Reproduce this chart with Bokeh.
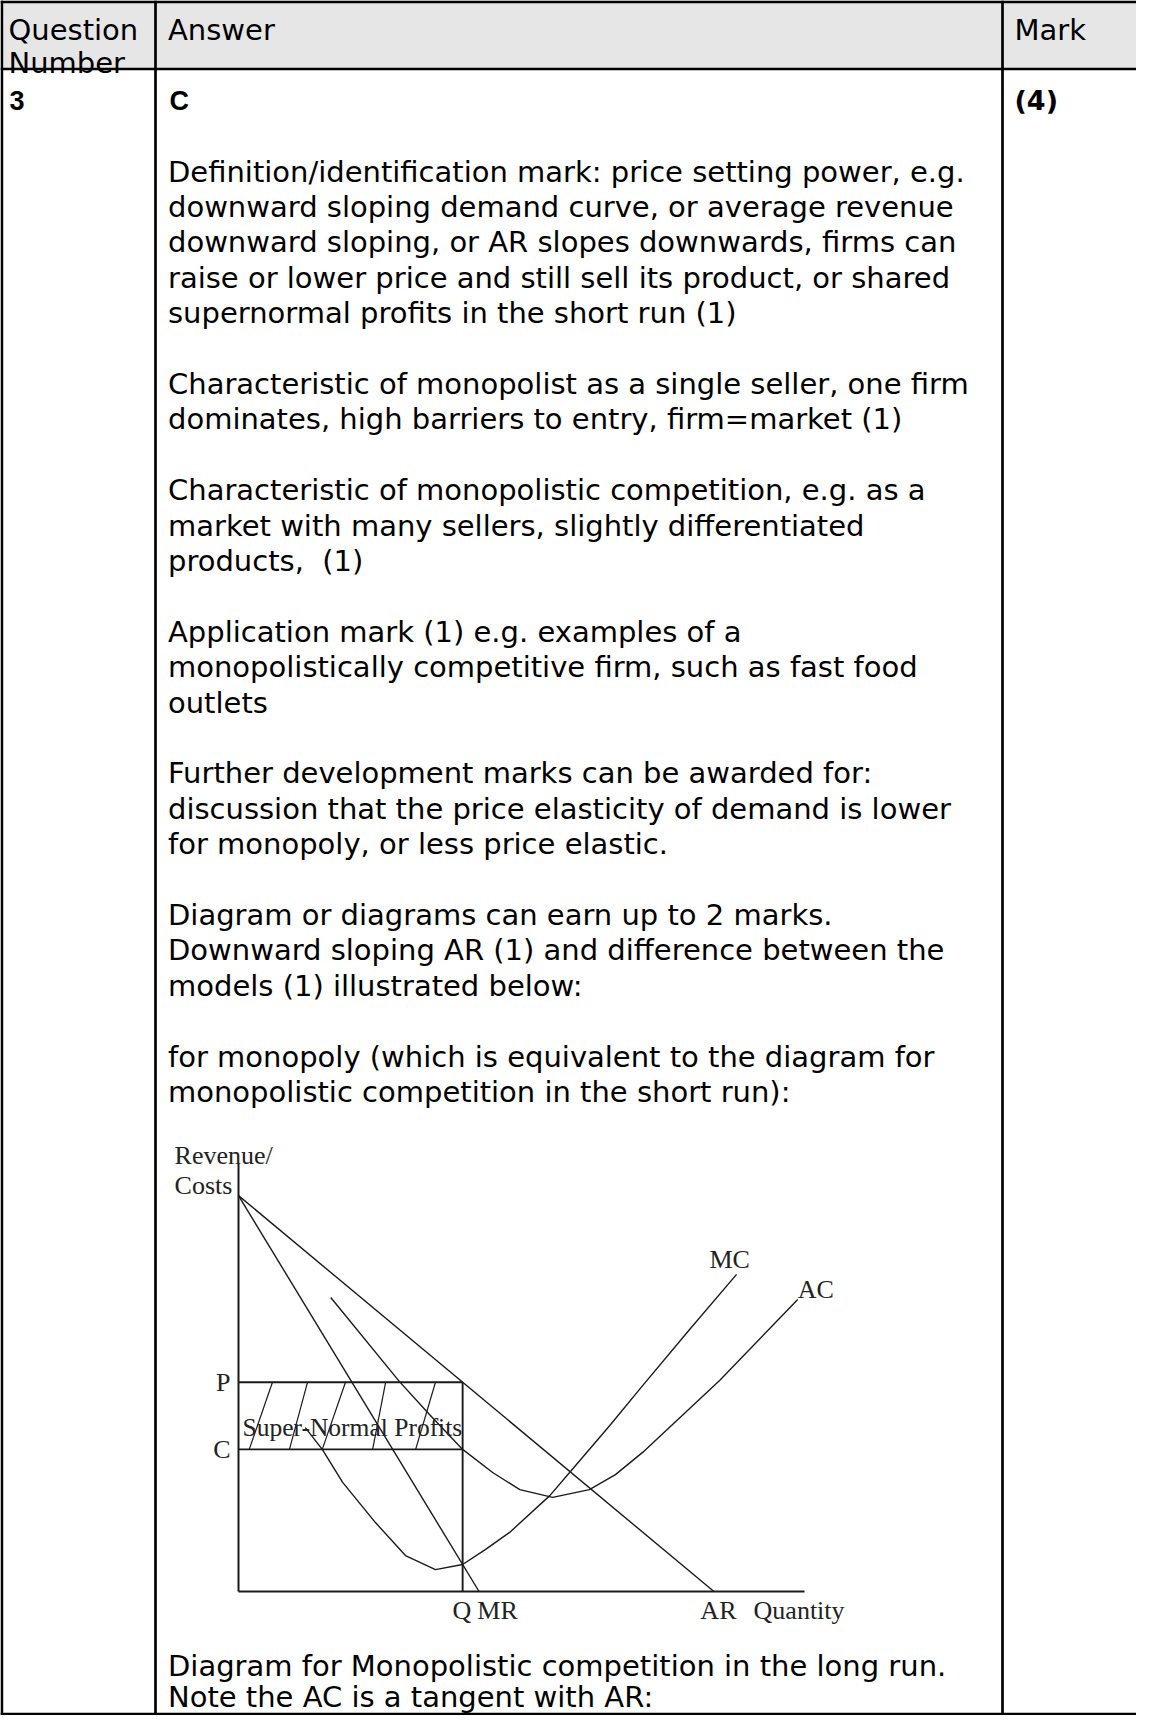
from bokeh.plotting import figure
from bokeh.models import Range1d, ColumnDataSource
from bokeh.core.properties import value
from bokeh.embed import file_html
from bokeh.resources import INLINE

# ---------------- data: table text ----------------
header_cells = ["Question", "Number", "Answer", "Mark"]
header_cols = [0, 0, 1, 2]
header_baselines = [37.5, 70.0, 37.5, 37.5]

question_number = "3"
answer_key = "C"
mark_total = "(4)"

answer_lines = [
    "Definition/identification mark: price setting power, e.g.",
    "downward sloping demand curve, or average revenue",
    "downward sloping, or AR slopes downwards, firms can",
    "raise or lower price and still sell its product, or shared",
    "supernormal profits in the short run (1)",
    "Characteristic of monopolist as a single seller, one firm",
    "dominates, high barriers to entry, firm=market (1)",
    "Characteristic of monopolistic competition, e.g. as a",
    "market with many sellers, slightly differentiated",
    "products,\u00a0 (1)",
    "Application mark (1) e.g. examples of a",
    "monopolistically competitive firm, such as fast food",
    "outlets",
    "Further development marks can be awarded for:",
    "discussion that the price elasticity of demand is lower",
    "for monopoly, or less price elastic.",
    "Diagram or diagrams can earn up to 2 marks.",
    "Downward sloping AR (1) and difference between the",
    "models (1) illustrated below:",
    "for monopoly (which is equivalent to the diagram for",
    "monopolistic competition in the short run):",
]
answer_rows = [0, 1, 2, 3, 4, 6, 7, 9, 10, 11, 13, 14, 15, 17, 18, 19, 21, 22, 23, 25, 26]

closing_lines = [
    "Diagram for Monopolistic competition in the long run.",
    "Note the AC is a tangent with AR:",
]

# ---------------- data: diagram (economic units) ----------------
axis_q_max = 100.0
axis_p_max = 100.0

ar_q = [0.0, 84.0]
ar_p = [92.5, 0.0]
mr_q = [0.0, 42.5]
mr_p = [92.5, 0.0]

mc_q = [11.8, 14.8, 18.4, 24.2, 29.5, 34.8, 39.6, 43.6, 47.9, 55.0, 58.5, 65.6, 71.4, 79.7, 88.0]
mc_p = [38.3, 33.2, 25.5, 16.1, 8.4, 5.1, 6.3, 9.8, 13.8, 22.4, 27.8, 38.8, 48.1, 61.2, 74.1]

ac_q = [16.3, 28.4, 33.7, 39.6, 44.9, 49.7, 55.5, 62.0, 66.6, 71.4, 85.0, 98.8]
ac_p = [68.7, 49.1, 41.4, 33.2, 27.8, 23.8, 22.0, 23.8, 27.3, 32.5, 49.3, 68.2]

q_star = 39.6   # profit-maximising output Q
p_star = 48.9   # price P
c_star = 33.2   # average cost C

hatch_q_low = [1.9, 9.0, 14.8, 23.7, 31.3]
hatch_q_high = [6.0, 12.2, 18.9, 26.0, 34.8]

# ---------------- layout (page pixels; figure sits at the 8px page margin) ----------------
FX0, FX1, FY0, FY1 = 8, 1144, 8, 1723
COL_TEXT_X = [16, 175.5, 1022]
COL_LINES_X = [163, 1010]
HEADER_BOTTOM = 76.5
LINE0, PITCH = 179.0, 35.4
ROW2_BASELINE = 108.0
CLOSING_BASELINES = [1673, 1704]
BORDER_W = 2.7

# diagram placement: q=0 at page x 246, p=0 at page y 1599
DX0, DY0, SX, SY = 246.0, 1599.0, 5.66, 4.28

p = figure(width=FX1 - FX0, height=FY1 - FY0,
           x_range=Range1d(FX0, FX1), y_range=Range1d(FY1, FY0),
           x_axis_type=None, y_axis_type=None,
           output_backend="svg", toolbar_location=None,
           min_border=0, outline_line_color=None,
           background_fill_color="white", border_fill_color="white")

p.extra_x_ranges = {"dq": Range1d((FX0 - DX0) / SX, (FX1 - DX0) / SX)}
p.extra_y_ranges = {"dp": Range1d((DY0 - FY1) / SY, (DY0 - FY0) / SY)}

def base(k):
    return LINE0 + PITCH * k

# header background
p.quad(left=FX0, right=FX1, top=FY0, bottom=HEADER_BOTTOM,
       fill_color="#e6e6e6", line_color=None)

# table rules
p.segment(x0=[FX0 + 1.35, COL_LINES_X[0], COL_LINES_X[1], FX0, FX0, FX0],
          y0=[FY0, FY0, FY0, FY0 + 1.35, HEADER_BOTTOM, FY1 - 1.35],
          x1=[FX0 + 1.35, COL_LINES_X[0], COL_LINES_X[1], FX1, FX1, FX1],
          y1=[FY1, FY1, FY1, FY0 + 1.35, HEADER_BOTTOM, FY1 - 1.35],
          line_color="black", line_width=BORDER_W)

sans = value("DejaVu Sans")

# header texts
p.text(x=[COL_TEXT_X[c] for c in header_cols], y=header_baselines,
       text=header_cells, text_font=sans, text_font_size="29px",
       text_baseline="alphabetic", text_align="left", text_color="black")

# bold row items
p.text(x=[COL_TEXT_X[0] + 1, COL_TEXT_X[1] + 1.5], y=[ROW2_BASELINE] * 2,
       text=[question_number, answer_key], text_font=value("Liberation Sans"),
       text_font_style="bold", text_font_size="27px",
       text_baseline="alphabetic", text_color="black")
p.text(x=[COL_TEXT_X[2]], y=[ROW2_BASELINE], text=[mark_total],
       text_font=sans, text_font_style="bold", text_font_size="27px",
       text_baseline="alphabetic", text_color="black")

# answer body
src = ColumnDataSource(dict(x=[COL_TEXT_X[1]] * len(answer_lines),
                            y=[base(r) for r in answer_rows],
                            t=answer_lines))
p.text(x="x", y="y", text="t", source=src, text_font=sans, text_font_size="29px",
       text_baseline="alphabetic", text_align="left", text_color="black")

p.text(x=[COL_TEXT_X[1]] * 2, y=CLOSING_BASELINES, text=closing_lines,
       text_font=sans, text_font_size="29px", text_baseline="alphabetic",
       text_align="left", text_color="black")

# ---------------- diagram ----------------
dk = dict(x_range_name="dq", y_range_name="dp")
ink = "#1a1a1a"

# axes
p.line(x=[0, 0], y=[0, axis_p_max], line_color=ink, line_width=2, **dk)
p.line(x=[0, axis_q_max], y=[0, 0], line_color=ink, line_width=2, **dk)

# profit rectangle
p.segment(x0=[0, 0, q_star], y0=[p_star, c_star, p_star],
          x1=[q_star, q_star, q_star], y1=[p_star, c_star, 0],
          line_color=ink, line_width=1.9, **dk)

# hatching
p.segment(x0=hatch_q_low, y0=[c_star] * len(hatch_q_low),
          x1=hatch_q_high, y1=[p_star] * len(hatch_q_high),
          line_color=ink, line_width=1.2, **dk)

# curves
p.line(x=ar_q, y=ar_p, line_color=ink, line_width=1.4, **dk)
p.line(x=mr_q, y=mr_p, line_color=ink, line_width=1.4, **dk)
p.line(x=mc_q, y=mc_p, line_color=ink, line_width=1.4, **dk)
p.line(x=ac_q, y=ac_p, line_color=ink, line_width=1.4, **dk)

serif = value("Liberation Serif")
lab_color = "#222222"

p.text(x=[-11.3, -11.3], y=[101.9, 94.9], text=["Revenue/", "Costs"],
       text_font=serif, text_font_size="26px", text_baseline="alphabetic",
       text_align="left", text_color=lab_color, **dk)
p.text(x=[-1.4, -1.4], y=[p_star, c_star], text=["P", "C"],
       text_font=serif, text_font_size="26px", text_baseline="middle",
       text_align="right", text_color=lab_color, **dk)
p.text(x=[0.7], y=[38.3], text=["Super-Normal Profits"],
       text_font=serif, text_font_size="25.5px", text_baseline="alphabetic",
       text_align="left", text_color=lab_color, **dk)
p.text(x=[83.2, 98.8], y=[77.6, 70.6], text=["MC", "AC"],
       text_font=serif, text_font_size="26px", text_baseline="middle",
       text_align="left", text_color=lab_color, **dk)
p.text(x=[37.8, 42.2, 81.6, 91.0], y=[-4.4] * 4, text=["Q", "MR", "AR", "Quantity"],
       text_font=serif, text_font_size="26px", text_baseline="middle",
       text_align="left", text_color=lab_color, **dk)

open("out.html", "w").write(file_html(p, INLINE))
